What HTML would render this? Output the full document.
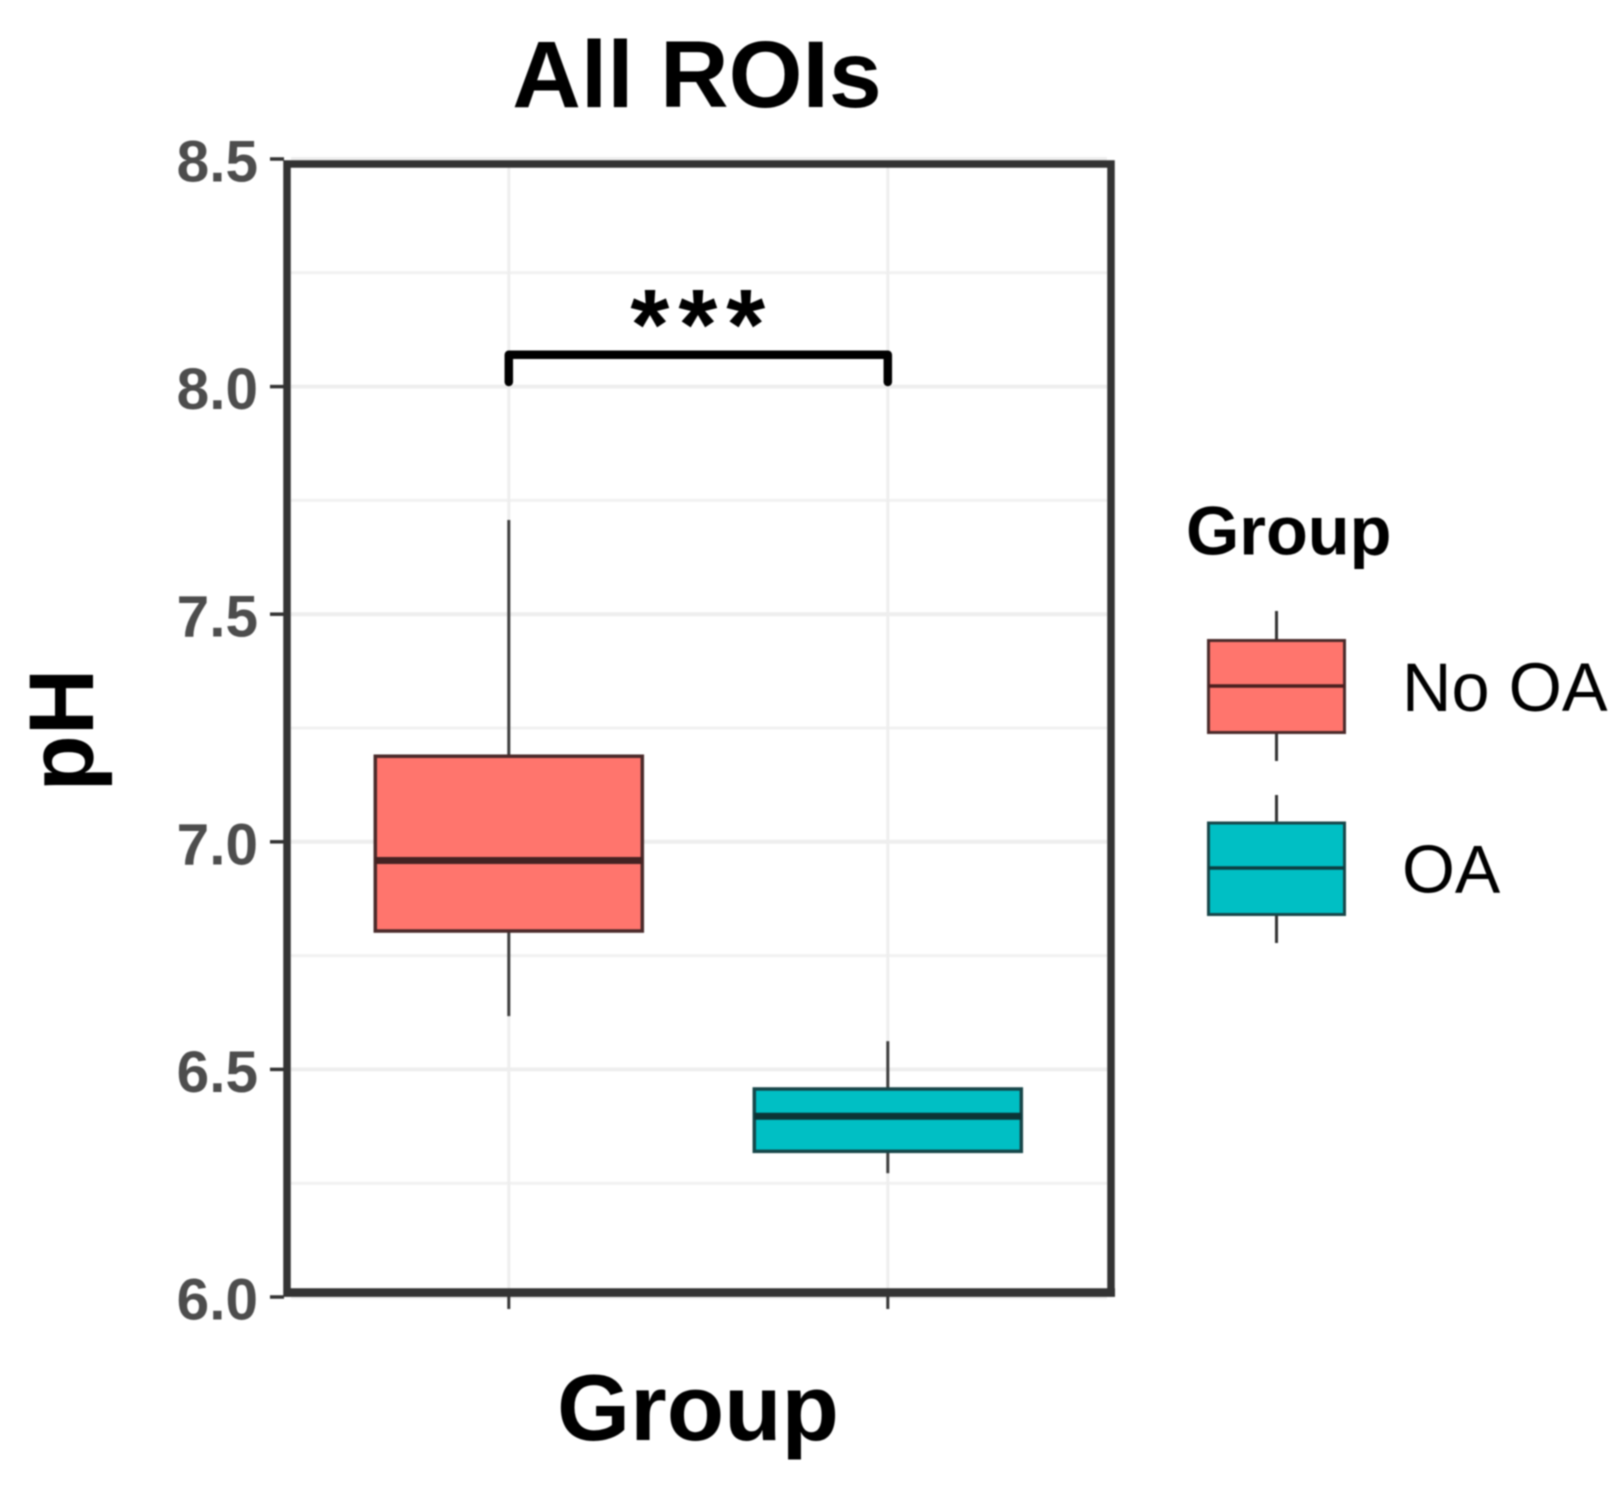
<!DOCTYPE html>
<html lang="en">
<head>
<meta charset="utf-8">
<title>All ROIs</title>
<style>
  html, body { margin: 0; padding: 0; background: #fff; }
  svg { display: block; filter: blur(0.7px); }
  text { font-family: "Liberation Sans", sans-serif; }
</style>
</head>
<body>
<svg id="chart" xmlns="http://www.w3.org/2000/svg" width="1622" height="1488" viewBox="0 0 1622 1488">
  <rect x="0" y="0" width="1622" height="1488" fill="#fff"/>
  <text x="697" y="107" font-size="95" font-weight="700" text-anchor="middle" fill="#000">All ROIs</text>
  <text transform="translate(93 730) rotate(-90)" font-size="92" font-weight="700" text-anchor="middle" fill="#000">pH</text>
  <text x="698" y="1440" font-size="94" font-weight="700" text-anchor="middle" fill="#000">Group</text>
  <g id="grid"></g>
  <g id="boxes"></g>
  <rect x="287" y="164" width="824" height="1129" fill="none" stroke="#333" stroke-width="7.5"/>
  <line x1="284" x2="1115" y1="1292.5" y2="1292.5" stroke="#333" stroke-width="8.5"/>
  <g id="axes"></g>
  <g id="signif"></g>

  <g>
    <text x="1186" y="554.5" font-size="68.5" font-weight="700" fill="#000">Group</text>
    <g>
      <line x1="1276.5" x2="1276.5" y1="611" y2="761" stroke="#333" stroke-width="3"/>
      <rect x="1208.5" y="640.5" width="136" height="92" fill="#FF756D" stroke="#4a2a2a" stroke-width="3"/>
      <line x1="1208.5" x2="1344.5" y1="686" y2="686" stroke="#4a1f1f" stroke-width="3.5"/>
      <text x="1402" y="711" font-size="68.5" fill="#000">No OA</text>
    </g>
    <g>
      <line x1="1276.5" x2="1276.5" y1="795" y2="943" stroke="#333" stroke-width="3"/>
      <rect x="1208.5" y="823" width="136" height="91.5" fill="#00BFC4" stroke="#17474a" stroke-width="3"/>
      <line x1="1208.5" x2="1344.5" y1="868" y2="868" stroke="#0c3f42" stroke-width="3.5"/>
      <text x="1402" y="892.5" font-size="68" fill="#000">OA</text>
    </g>
  </g>
</svg>
<script>
const categories = ['No OA', 'OA'];
const whiskerLow = [6.617, 6.272];
const q1 = [6.804, 6.32];
const medians = [6.959, 6.397];
const q3 = [7.188, 6.457];
const whiskerHigh = [7.707, 6.562];
const yTicks = [6.0, 6.5, 7.0, 7.5, 8.0, 8.5];
const yMinorTicks = [6.25, 6.75, 7.25, 7.75, 8.25];
const bracketValue = 8.07;
const bracketTipValue = 8.01;
const bracketLabel = '***';
const fills = ['#FF756D', '#00BFC4'];
const strokes = ['#4a2a2a', '#17474a'];
const medianStrokes = ['#442222', '#0c3436'];

const NS = 'http://www.w3.org/2000/svg';
function yScale(v) { return 1297 - (v - 6) * 455.2; }
function xScale(i) { return 508.8 + i * 379; }
const boxWidth = 267;

function shape(parent, tag, attrs) {
  const el = document.createElementNS(NS, tag);
  for (const k in attrs) el.setAttribute(k, attrs[k]);
  parent.appendChild(el);
  return el;
}
function line(parent, x1, y1, x2, y2, stroke, w) {
  return shape(parent, 'line', { x1: x1, y1: y1, x2: x2, y2: y2, stroke: stroke, 'stroke-width': w });
}

const grid = document.getElementById('grid');
yMinorTicks.forEach(function (v) {
  const el = line(grid, 291, yScale(v), 1107, yScale(v), '#f1f1f1', 3);
  
  
});
yTicks.forEach(function (v) {
  const el = line(grid, 291, yScale(v), 1107, yScale(v), '#eeeeee', 4);
  
  
});
categories.forEach(function (c, i) {
  const el = line(grid, xScale(i), 167, xScale(i), 1290, '#eeeeee', 3);
  
  
});

const boxes = document.getElementById('boxes');
categories.forEach(function (c, i) {
  const g = shape(boxes, 'g', {});
  
  
  const x = xScale(i);
  const wu = line(g, x, yScale(whiskerHigh[i]), x, yScale(q3[i]), '#3d3d3d', 3);
  
  
  const wl = line(g, x, yScale(q1[i]), x, yScale(whiskerLow[i]), '#3d3d3d', 3);
  
  
  const box = shape(g, 'rect', {
    x: x - boxWidth / 2,
    y: yScale(q3[i]),
    width: boxWidth,
    height: yScale(q1[i]) - yScale(q3[i]),
    fill: fills[i],
    stroke: strokes[i],
    'stroke-width': 3.5
  });
  
  
  const med = line(g, x - boxWidth / 2, yScale(medians[i]), x + boxWidth / 2, yScale(medians[i]), medianStrokes[i], 7);
  
  
});

const axes = document.getElementById('axes');
yTicks.forEach(function (v) {
  const y = yScale(v);
  const t = line(axes, 270, y, 284, y, '#333', 3.5);
  
  
  const lab = shape(axes, 'text', {
    x: 258,
    y: y + 22.5,
    'font-size': 58.5,
    'font-weight': 700,
    'text-anchor': 'end',
    fill: '#4d4d4d'
  });
  lab.textContent = v.toFixed(1);
  
  
});
categories.forEach(function (c, i) {
  const t = line(axes, xScale(i), 1296, xScale(i), 1309, '#333', 3);
  
  
});

const signif = document.getElementById('signif');
const bracket = shape(signif, 'path', {
  d: 'M' + xScale(0) + ' ' + yScale(bracketTipValue) +
     'V' + yScale(bracketValue) +
     'H' + xScale(1) +
     'V' + yScale(bracketTipValue),
  fill: 'none',
  stroke: '#000',
  'stroke-width': 8.5,
  'stroke-linejoin': 'round',
  'stroke-linecap': 'round'
});


const stars = shape(signif, 'text', {
  x: (xScale(0) + xScale(1)) / 2 + 4,
  y: 359,
  'font-size': 100,
  'font-weight': 700,
  'letter-spacing': 9,
  'text-anchor': 'middle',
  fill: '#000'
});
stars.textContent = bracketLabel;


</script>
</body>
</html>
